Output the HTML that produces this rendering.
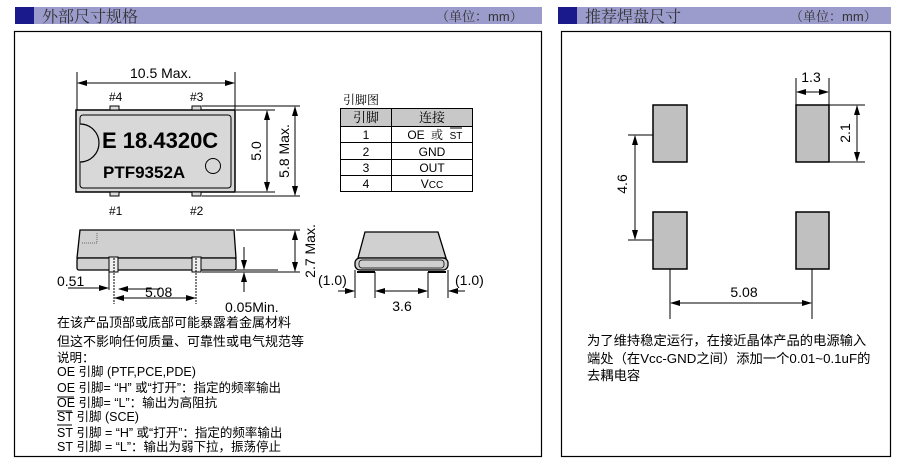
<!DOCTYPE html>
<html><head><meta charset="utf-8"><style>
html,body{margin:0;padding:0;background:#fff;}
svg{display:block;}
text{font-family:"Liberation Sans","Noto Sans CJK SC",sans-serif;fill:#000;}
.cj{font-family:"Noto Serif CJK SC","Noto Sans CJK SC",serif;}
</style></head><body>
<svg width="914" height="475" viewBox="0 0 914 475" xmlns="http://www.w3.org/2000/svg">
<defs>
<marker id="a" markerWidth="10" markerHeight="6" refX="9" refY="3" orient="auto-start-reverse" markerUnits="userSpaceOnUse"><path d="M0,0 L10,3 L0,6 z" fill="#000"/></marker>
</defs>
<!-- headers -->
<rect x="15" y="7" width="527" height="17" fill="#9c9ccc"/>
<rect x="15" y="7" width="19" height="17" fill="#1a1a8c"/>
<text x="42" y="22" font-size="16" class="cj" style="fill:#333">外部尺寸规格</text>
<text x="436" y="21" font-size="13" class="cj" style="fill:#333">（单位：<tspan font-family="Liberation Sans">mm</tspan>）</text>
<rect x="558" y="7" width="333" height="17" fill="#9c9ccc"/>
<rect x="558" y="7" width="19" height="17" fill="#1a1a8c"/>
<text x="585" y="22" font-size="16" class="cj" style="fill:#333">推荐焊盘尺寸</text>
<text x="790" y="21" font-size="13" class="cj" style="fill:#333">（单位：<tspan font-family="Liberation Sans">mm</tspan>）</text>
<!-- boxes -->
<rect x="14.5" y="31.5" width="527" height="425" fill="none" stroke="#000" stroke-width="1.2"/>
<rect x="561.5" y="31.5" width="329" height="425" fill="none" stroke="#000" stroke-width="1.2"/>

<!-- top view -->
<g stroke="#000" stroke-width="1" fill="none">
<line x1="77" y1="72" x2="77" y2="110"/><line x1="235" y1="72" x2="235" y2="110"/>
<line x1="78" y1="83" x2="234" y2="83" marker-start="url(#a)" marker-end="url(#a)"/>
<line x1="202" y1="106" x2="300" y2="106"/><line x1="236" y1="110" x2="275" y2="110"/>
<line x1="236" y1="192" x2="275" y2="192"/><line x1="202" y1="196" x2="300" y2="196"/>
<line x1="267" y1="111" x2="267" y2="191" marker-start="url(#a)" marker-end="url(#a)"/>
<line x1="295" y1="107" x2="295" y2="195" marker-start="url(#a)" marker-end="url(#a)"/>
</g>
<rect x="76" y="110" width="159" height="82" fill="#d8d8d8" stroke="#000" stroke-width="1.5"/>
<rect x="80" y="115" width="151" height="73" rx="3" fill="#d8d8d8" stroke="#000" stroke-width="1"/>
<path d="M80,124 A19,19 0 0 1 80,162" fill="#d8d8d8" stroke="#000" stroke-width="1.2"/>
<rect x="110" y="106" width="9" height="4" fill="#ddd" stroke="#000"/>
<rect x="192" y="106" width="9" height="4" fill="#ddd" stroke="#000"/>
<rect x="110" y="192" width="9" height="4" fill="#ddd" stroke="#000"/>
<rect x="192" y="192" width="9" height="4" fill="#ddd" stroke="#000"/>
<circle cx="213" cy="166" r="7.5" fill="none" stroke="#000"/>
<text x="102" y="148" font-size="22" font-weight="bold">E 18.4320C</text>
<text x="103" y="178" font-size="17" font-weight="bold">PTF9352A</text>
<text x="130" y="78" font-size="14">10.5 Max.</text>
<text x="109" y="101" font-size="12">#4</text><text x="190" y="101" font-size="12">#3</text>
<text x="109" y="215" font-size="12">#1</text><text x="190" y="215" font-size="12">#2</text>
<text font-size="14" transform="translate(261,151) rotate(-90)" text-anchor="middle">5.0</text>
<text font-size="14" transform="translate(289,151) rotate(-90)" text-anchor="middle">5.8 Max.</text>

<!-- table -->
<text x="343" y="104" font-size="12" class="cj">引脚图</text>
<rect x="340.5" y="108.5" width="132" height="83" fill="#fff" stroke="#000"/>
<rect x="341" y="109" width="131" height="17" fill="#c8c8c8"/>
<g stroke="#000" stroke-width="1">
<line x1="340" y1="126.5" x2="472" y2="126.5"/><line x1="340" y1="142.5" x2="472" y2="142.5"/>
<line x1="340" y1="159.5" x2="472" y2="159.5"/><line x1="340" y1="175.5" x2="472" y2="175.5"/>
<line x1="391.5" y1="108" x2="391.5" y2="192"/>
</g>
<g font-size="12" text-anchor="middle">
<text x="366" y="122" class="cj" font-size="13">引脚</text><text x="432" y="122" class="cj" font-size="13">连接</text>
<text x="366" y="139">1</text><text x="416" y="139">OE</text><text x="437" y="139" class="cj" font-size="12">或</text><text x="456" y="139" font-size="10">ST</text>
<text x="366" y="156">2</text><text x="432" y="156">GND</text>
<text x="366" y="172">3</text><text x="432" y="172">OUT</text>
<text x="366" y="188">4</text><text x="432" y="188">V<tspan font-size="10">CC</tspan></text>
</g>
<line x1="450" y1="128" x2="462" y2="128" stroke="#000"/>

<!-- side view -->
<path d="M80,230 L234,230 L236,258 L77,258 Z" fill="#d0d0d0" stroke="#000" stroke-width="1.3"/>
<rect x="77" y="258" width="159" height="12" rx="2" fill="#d0d0d0" stroke="#000" stroke-width="1.3"/>
<path d="M82,243 L97,243 L97,233" fill="none" stroke="#666" stroke-dasharray="1,1"/>
<rect x="109" y="257" width="9" height="15" fill="#eee" stroke="#000"/>
<rect x="192" y="257" width="9" height="15" fill="#eee" stroke="#000"/>
<g stroke="#000" stroke-width="1" fill="none">
<line x1="114" y1="258" x2="114" y2="304" stroke-dasharray="2,1"/>
<line x1="196" y1="258" x2="196" y2="304" stroke-dasharray="2,1"/>
<line x1="109" y1="272" x2="109" y2="290"/>
<line x1="68" y1="288" x2="108" y2="288" marker-end="url(#a)"/>
<line x1="160" y1="289" x2="119" y2="289" marker-end="url(#a)"/>
<line x1="115" y1="298" x2="195" y2="298" marker-start="url(#a)" marker-end="url(#a)"/>
<line x1="236" y1="230" x2="300" y2="230"/><line x1="236" y1="270" x2="278" y2="270"/>
<line x1="202" y1="272" x2="300" y2="272"/>
<line x1="295" y1="231" x2="295" y2="271" marker-start="url(#a)" marker-end="url(#a)"/>
<line x1="244" y1="247" x2="244" y2="269" marker-end="url(#a)"/>
<line x1="244" y1="292" x2="244" y2="273" marker-end="url(#a)"/>
</g>
<text x="57" y="286" font-size="14">0.51</text>
<text x="145" y="297" font-size="14">5.08</text>
<text x="225" y="312" font-size="14">0.05Min.</text>
<text font-size="14" transform="translate(315,251) rotate(-90)" text-anchor="middle">2.7 Max.</text>

<!-- end view -->
<path d="M365,232 L438,232 L446,258 L358,258 Z" fill="#d0d0d0" stroke="#000" stroke-width="1.3"/>
<rect x="355" y="258" width="93" height="12" rx="5" fill="#d0d0d0" stroke="#000" stroke-width="1.3"/>
<rect x="359" y="260" width="85" height="8" rx="3" fill="none" stroke="#000" stroke-width="0.8"/>
<line x1="357" y1="272" x2="375" y2="272" stroke="#000" stroke-width="2"/>
<line x1="428" y1="272" x2="446" y2="272" stroke="#000" stroke-width="2"/>
<g stroke="#000" stroke-width="1" fill="none">
<line x1="355" y1="270" x2="355" y2="298"/><line x1="375" y1="272" x2="375" y2="298"/>
<line x1="428" y1="272" x2="428" y2="298"/><line x1="448" y1="270" x2="448" y2="298"/>
<line x1="338" y1="291" x2="354" y2="291" marker-end="url(#a)"/>
<line x1="376" y1="291" x2="427" y2="291" marker-start="url(#a)" marker-end="url(#a)"/>
<line x1="465" y1="291" x2="449" y2="291" marker-end="url(#a)"/>
</g>
<text x="318" y="285" font-size="14">(1.0)</text>
<text x="455" y="285" font-size="14">(1.0)</text>
<text x="402" y="311" font-size="14" text-anchor="middle">3.6</text>

<!-- notes -->
<g font-size="12.5" class="cj">
<text x="57" y="327" font-size="13">在该产品顶部或底部可能暴露着金属材料</text>
<text x="57" y="346" font-size="13">但这不影响任何质量、可靠性或电气规范等</text>
<text x="57" y="362">说明：</text>
<text x="57" y="376"><tspan font-family="Liberation Sans">OE</tspan> 引脚 <tspan font-family="Liberation Sans">(PTF,PCE,PDE)</tspan></text>
<text x="57" y="392"><tspan font-family="Liberation Sans">OE</tspan> 引脚<tspan font-family="Liberation Sans">= </tspan> “<tspan font-family="Liberation Sans">H</tspan>” 或“打开”：指定的频率输出</text>
<text x="57" y="407"><tspan font-family="Liberation Sans">OE</tspan> 引脚<tspan font-family="Liberation Sans">= </tspan> “<tspan font-family="Liberation Sans">L</tspan>”：输出为高阻抗</text>
<text x="57" y="421"><tspan font-family="Liberation Sans">ST</tspan> 引脚 <tspan font-family="Liberation Sans">(SCE)</tspan></text>
<text x="57" y="437"><tspan font-family="Liberation Sans">ST</tspan> 引脚 <tspan font-family="Liberation Sans">= </tspan> “<tspan font-family="Liberation Sans">H</tspan>” 或“打开”：指定的频率输出</text>
<text x="57" y="451"><tspan font-family="Liberation Sans">ST</tspan> 引脚 <tspan font-family="Liberation Sans">= </tspan> “<tspan font-family="Liberation Sans">L</tspan>”：输出为弱下拉，振荡停止</text>
</g>
<line x1="57" y1="397" x2="74" y2="397" stroke="#000"/>
<line x1="57" y1="411" x2="72" y2="411" stroke="#000"/>
<line x1="57" y1="425" x2="72" y2="425" stroke="#000"/>
<line x1="57" y1="410" x2="72" y2="410" stroke="none"/>

<!-- right pads -->
<g fill="#c0c0c0" stroke="#000" stroke-width="1.5">
<rect x="653" y="105" width="34" height="57"/>
<rect x="796" y="105" width="33" height="57"/>
<rect x="653" y="212" width="34" height="57"/>
<rect x="796" y="212" width="33" height="57"/>
</g>
<g stroke="#000" stroke-width="1" fill="none">
<line x1="796" y1="78" x2="796" y2="105"/><line x1="829" y1="78" x2="829" y2="105"/>
<line x1="797" y1="92" x2="828" y2="92" marker-start="url(#a)" marker-end="url(#a)"/>
<line x1="829" y1="105" x2="865" y2="105"/><line x1="829" y1="162" x2="865" y2="162"/>
<line x1="857" y1="106" x2="857" y2="161" marker-start="url(#a)" marker-end="url(#a)"/>
<line x1="628" y1="135" x2="653" y2="135"/><line x1="628" y1="240" x2="653" y2="240"/>
<line x1="635" y1="136" x2="635" y2="239" marker-start="url(#a)" marker-end="url(#a)"/>
<line x1="670" y1="269" x2="670" y2="319"/><line x1="812" y1="269" x2="812" y2="319"/>
<line x1="671" y1="303" x2="811" y2="303" marker-start="url(#a)" marker-end="url(#a)"/>
</g>
<text x="811" y="82" font-size="14" text-anchor="middle">1.3</text>
<text font-size="14" transform="translate(850,133) rotate(-90)" text-anchor="middle">2.1</text>
<text font-size="14" transform="translate(627,184) rotate(-90)" text-anchor="middle">4.6</text>
<text x="744" y="297" font-size="14" text-anchor="middle">5.08</text>
<g font-size="13.3" class="cj">
<text x="587" y="345">为了维持稳定运行，在接近晶体产品的电源输入</text>
<text x="587" y="363">端处（在<tspan font-family="Liberation Sans">Vcc-GND</tspan>之间）添加一个<tspan font-family="Liberation Sans">0.01~0.1uF</tspan>的</text>
<text x="587" y="380">去耦电容</text>
</g>
</svg>
</body></html>
